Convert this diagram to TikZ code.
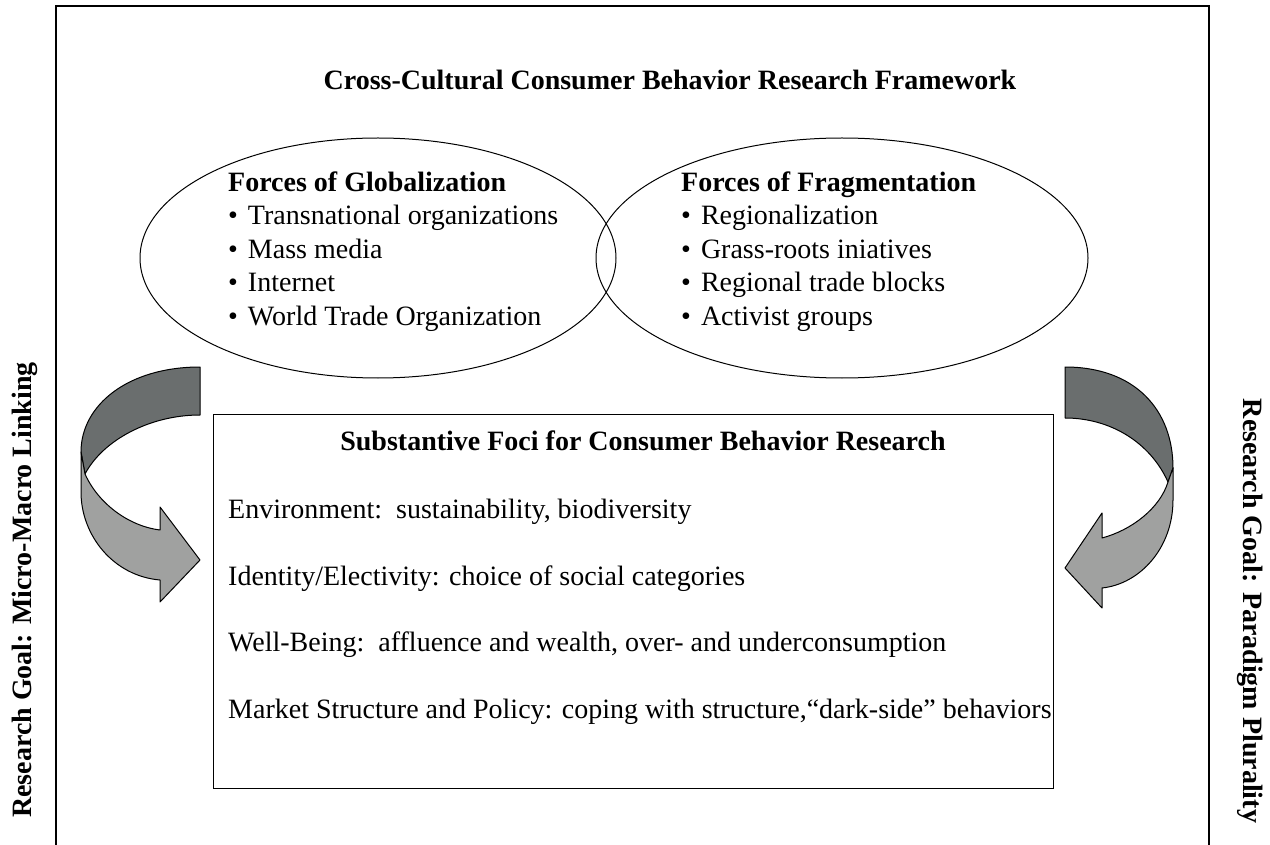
\documentclass[tikz,border=0pt]{standalone}
\usepackage{fontspec}
\setmainfont{Liberation Serif}
\newcommand{\bulletitem}{\textbullet\hspace{10pt}}
\begin{document}
\begin{tikzpicture}[x=1pt,y=-1pt,
  txt/.style={anchor=base west,inner sep=0pt,font=\fontsize{28}{32}\selectfont},
  hdr/.style={inner sep=0pt,font=\fontsize{28}{32}\selectfont\bfseries},
  bandline/.style={draw=black,line width=1pt,line join=round}]
\definecolor{darkband}{RGB}{106,110,110}
\definecolor{lightband}{RGB}{160,161,160}
\useasboundingbox (0,0) rectangle (1270,845);

% outer frame, open at the bottom
\draw[line width=1.6pt] (56,850) -- (56,6) -- (1209,6) -- (1209,850);

% title
\node[hdr,anchor=base] (title) at (670,90) {Cross-Cultural Consumer Behavior Research Framework};

% the two overlapping forces
\draw[line width=1pt] (378,258) ellipse [x radius=238, y radius=120];
\draw[line width=1pt] (842,258) ellipse [x radius=246, y radius=120];

\node[hdr,anchor=base west] (glob) at (228,192) {Forces of Globalization};
\node[txt] (g1) at (228,225) {\bulletitem Transnational organizations};
\node[txt] (g2) at (228,259) {\bulletitem Mass media};
\node[txt] (g3) at (228,292) {\bulletitem Internet};
\node[txt] (g4) at (228,326) {\bulletitem World Trade Organization};

\node[hdr,anchor=base west] (frag) at (681,192) {Forces of Fragmentation};
\node[txt] (f1) at (681,225) {\bulletitem Regionalization};
\node[txt] (f2) at (681,259) {\bulletitem Grass-roots iniatives};
\node[txt] (f3) at (681,292) {\bulletitem Regional trade blocks};
\node[txt] (f4) at (681,326) {\bulletitem Activist groups};

% substantive foci box
\draw[line width=1pt] (213,414) rectangle (1053,788);
\node[hdr,anchor=base] (foci) at (643,450) {Substantive Foci for Consumer Behavior Research};
\node[txt] (e1) at (228,518) {Environment:\ \ sustainability, biodiversity};
\node[txt] (e2) at (228,585) {Identity/Electivity: choice of social categories};
\node[txt] (e3) at (228,651) {Well-Being:\ \ affluence and wealth, over- and underconsumption};
\node[txt] (e4) at (228,718) {Market Structure and Policy: coping with structure,“dark-side” behaviors};

% left curved arrow
\path[bandline,fill=darkband] (200,367) .. controls (128,367) and (81,405) .. (81,452)
  -- (85,474) .. controls (103,440) and (150,415) .. (200,415) -- cycle;
\path[bandline,fill=lightband] (81,452) -- (85,474) .. controls (98,503) and (128,526) .. (160,530)
  -- (160,507) -- (200,560) -- (160,602) -- (160,580)
  .. controls (113,576) and (81,535) .. (81,492) -- cycle;

% right curved arrow
\path[bandline,fill=darkband] (1065,367) .. controls (1135,367) and (1173,410) .. (1173,468)
  -- (1168,482) .. controls (1150,442) and (1110,418) .. (1065,418) -- cycle;
\path[bandline,fill=lightband] (1168,482) -- (1173,468) -- (1173,500)
  .. controls (1173,548) and (1140,584) .. (1102,588)
  -- (1102,608) -- (1065,568) -- (1102,513) -- (1102,538)
  .. controls (1132,530) and (1160,508) .. (1168,482) -- cycle;

% side labels
\node[hdr,rotate=90] (goalL) at (25,590) {Research Goal: Micro-Macro Linking};
\node[hdr,rotate=-90] (goalR) at (1250,611) {Research Goal: Paradigm Plurality};
\end{tikzpicture}
\end{document}
